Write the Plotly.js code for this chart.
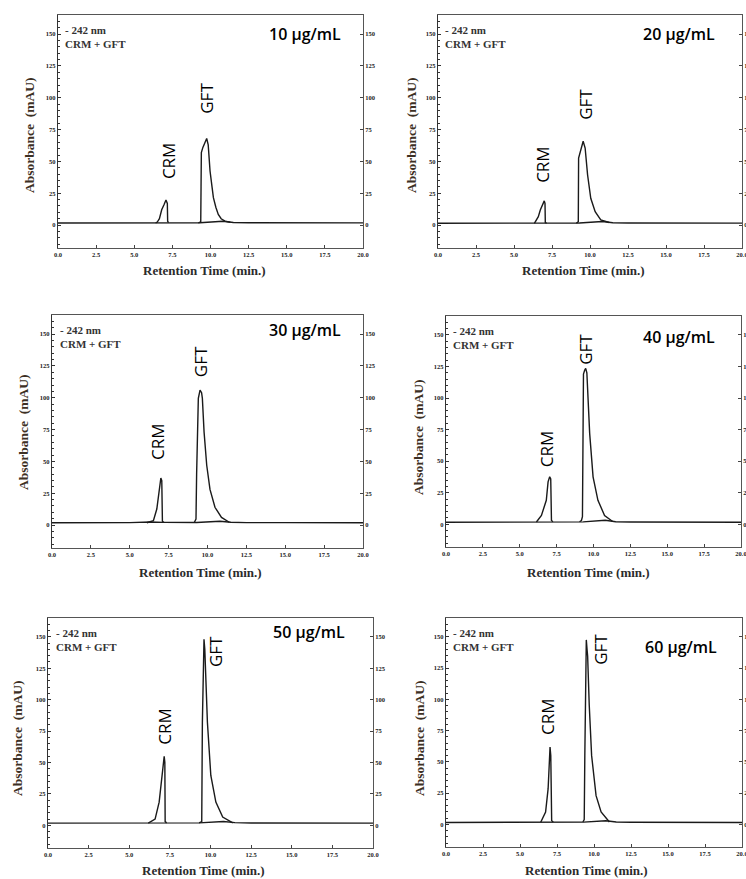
<!DOCTYPE html>
<html><head><meta charset="utf-8">
<script src="https://cdn.plot.ly/plotly-3.0.1.min.js"></script>
<style>html,body{margin:0;padding:0;background:#fff}#chart{width:746px;height:879px}</style>
</head><body><div id="chart"></div>
<script>
// ---- data ----
const concLabels = ['10 µg/mL','20 µg/mL','30 µg/mL','40 µg/mL','50 µg/mL','60 µg/mL'];
const xTicks = [0, 2.5, 5, 7.5, 10, 12.5, 15, 17.5, 20];
const xTickText = ['0.0','2.5','5.0','7.5','10.0','12.5','15.0','17.5','20.0'];
const yTicks = [0, 25, 50, 75, 100, 125, 150];
const yTickText = ['0','25','50','75','100','125','150'];

const baseTime = [0, 2.5, 5, 6.3, 7.2, 9.3, 10.8, 11.5, 12.5, 15, 17.5, 20];
const p1BaseAbs = [1.6, 1.7, 1.7, 2.2, 2.0, 1.8, 3.0, 2.0, 1.8, 1.8, 1.7, 1.7];
const p2BaseAbs = [1.4, 1.5, 1.5, 2.0, 1.9, 1.6, 2.8, 1.8, 1.6, 1.6, 1.5, 1.5];
const p3BaseAbs = [1.8, 1.8, 1.9, 2.4, 2.1, 2.0, 3.0, 2.2, 1.9, 1.9, 1.8, 1.8];
const p4BaseAbs = [1.6, 1.6, 1.7, 2.0, 2.0, 1.9, 3.2, 2.0, 1.8, 1.7, 1.7, 1.6];
const p5BaseAbs = [1.8, 1.8, 1.9, 2.2, 2.1, 2.0, 3.1, 2.2, 1.9, 1.9, 1.8, 1.8];
const p6BaseAbs = [1.6, 1.6, 1.7, 2.1, 2.0, 1.9, 3.0, 2.0, 1.8, 1.7, 1.7, 1.6];

const p1CrmTime = [6.4, 6.5, 6.65, 6.8, 6.95, 7.08, 7.17, 7.19, 7.25];
const p1CrmAbs  = [1.8, 2.2, 5, 12, 16, 19.7, 17, 3, 2];
const p1GftTime = [9.2, 9.36, 9.38, 9.4, 9.5, 9.62, 9.75, 9.85, 9.97, 10.1, 10.19, 10.35, 10.51, 10.7, 10.95, 11.3];
const p1GftAbs  = [1.8, 2.5, 30, 57, 61, 65, 68, 63, 42.5, 30, 21.5, 14, 8.4, 5, 3.1, 2.2];

const p2CrmTime = [6.34, 6.6, 6.73, 6.93, 6.99, 7.04, 7.06, 7.15];
const p2CrmAbs  = [1.4, 6.6, 11.8, 17, 19, 17, 2, 1.6];
const p2GftTime = [9.1, 9.23, 9.25, 9.33, 9.45, 9.55, 9.68, 9.84, 10.05, 10.34, 10.71, 11.26];
const p2GftAbs  = [1.6, 2.5, 52.6, 56.6, 62, 65.8, 60.5, 39.5, 21, 10.5, 4, 2];

const p3CrmTime = [6.1, 6.52, 6.74, 6.9, 7.0, 7.06, 7.1, 7.2];
const p3CrmAbs  = [1.8, 3.4, 12.6, 31, 37, 35, 3, 2];
const p3GftTime = [9.15, 9.26, 9.3, 9.35, 9.41, 9.52, 9.62, 9.67, 9.78, 9.95, 10.16, 10.48, 10.9, 11.4];
const p3GftAbs  = [2, 4.7, 40, 73, 99.5, 106, 104, 99.5, 73, 47, 28, 14, 6, 2.2];

const p4CrmTime = [6.13, 6.47, 6.8, 6.92, 7.03, 7.1, 7.15, 7.25];
const p4CrmAbs  = [1.8, 7, 19, 33.6, 37.6, 36, 3, 2];
const p4GftTime = [9.05, 9.18, 9.25, 9.29, 9.32, 9.4, 9.47, 9.55, 9.63, 9.74, 9.97, 10.3, 10.75, 11.3];
const p4GftAbs  = [2, 3, 6, 60, 119, 122, 123.5, 120, 104, 72, 37.6, 19, 7, 2.2];

const p5CrmTime = [6.17, 6.59, 6.84, 7.0, 7.15, 7.19, 7.21, 7.3];
const p5CrmAbs  = [1.8, 5, 18.5, 39.7, 55, 50, 3, 2];
const p5GftTime = [9.3, 9.46, 9.5, 9.54, 9.6, 9.65, 9.7, 9.81, 10.02, 10.33, 10.75, 11.37];
const p5GftAbs  = [2, 3, 82, 121.7, 148, 140, 121.7, 82, 39.7, 18.5, 6.6, 2];

const p6CrmTime = [6.4, 6.73, 6.9, 7.03, 7.08, 7.14, 7.25];
const p6CrmAbs  = [1.8, 10, 28.6, 61.8, 55, 3, 2];
const p6GftTime = [9.25, 9.34, 9.38, 9.43, 9.48, 9.53, 9.57, 9.68, 9.84, 10.14, 10.48, 11.04];
const p6GftAbs  = [2, 4, 55, 108, 147.5, 140, 134.7, 95, 55, 23, 10, 2];

// ---- layout config (positions only) ----
const W = 746, H = 879;
const geom = [
  {l:58,  r:363, t:15,  b:248, crm:[7.21,51],  gft:[9.77,100], conc:[13.7,150], yt:[29,135],  xt:[204,270]},
  {l:438, r:742, t:15,  b:248, crm:[6.9,48],   gft:[9.65,95],  conc:[13.35,150], yt:[411,135], xt:[583,270]},
  {l:52,  r:363, t:315, b:548, crm:[6.75,66],  gft:[9.52,128], conc:[13.8,153], yt:[23,432],  xt:[200,572]},
  {l:446, r:741, t:316, b:547, crm:[6.78,59.5],gft:[9.49,139], conc:[13.2,148], yt:[419,437], xt:[588,572]},
  {l:48,  r:373, t:618, b:848, crm:[7.12,79],  gft:[10.35,138],conc:[13.7,154], yt:[17,738],  xt:[203,870]},
  {l:446, r:742, t:618, b:847, crm:[6.9,86],   gft:[10.44,140],conc:[13.3,142], yt:[419,738], xt:[586,870]}
];
const series = [
  [p1BaseAbs, p1CrmTime, p1CrmAbs, p1GftTime, p1GftAbs],
  [p2BaseAbs, p2CrmTime, p2CrmAbs, p2GftTime, p2GftAbs],
  [p3BaseAbs, p3CrmTime, p3CrmAbs, p3GftTime, p3GftAbs],
  [p4BaseAbs, p4CrmTime, p4CrmAbs, p4GftTime, p4GftAbs],
  [p5BaseAbs, p5CrmTime, p5CrmAbs, p5GftTime, p5GftAbs],
  [p6BaseAbs, p6CrmTime, p6CrmAbs, p6GftTime, p6GftAbs]
];

const serif = 'Liberation Serif, DejaVu Serif, serif';
const sans = 'Open Sans, Noto Sans, sans-serif';
const tickFont = {family: serif, size: 6.5, color: '#222', weight: 'bold'};
const lineStyle = {color: '#1a1a1a', width: 1.4};

const traces = [];
const layout = {
  width: W, height: H, margin: {l:0, r:0, t:0, b:0},
  paper_bgcolor: '#fff', plot_bgcolor: '#fff', showlegend: false,
  annotations: []
};
const yRange = [-18, 165];

geom.forEach((g, i) => {
  const n = i + 1;
  const xa = n === 1 ? 'x' : 'x' + n;
  const ya = n === 1 ? 'y' : 'y' + n;
  const ya2 = 'y' + (n + 6);
  const xKey = n === 1 ? 'xaxis' : 'xaxis' + n;
  const yKey = n === 1 ? 'yaxis' : 'yaxis' + n;
  const y2Key = 'yaxis' + (n + 6);
  const [baseA, crmT, crmA, gftT, gftA] = series[i];

  traces.push({x: baseTime, y: baseA, xaxis: xa, yaxis: ya2, mode: 'lines', line: lineStyle, hoverinfo: 'skip'});
  traces.push({x: crmT, y: crmA, xaxis: xa, yaxis: ya, mode: 'lines', line: lineStyle, hoverinfo: 'skip'});
  traces.push({x: gftT, y: gftA, xaxis: xa, yaxis: ya, mode: 'lines', line: lineStyle, hoverinfo: 'skip'});

  layout[xKey] = {
    domain: [g.l / W, g.r / W], anchor: ya, range: [0, 20],
    tickmode: 'array', tickvals: xTicks, ticktext: xTickText,
    ticks: 'inside', ticklen: 3, tickcolor: '#444', ticklabeloverflow: 'allow',
    showline: true, mirror: true, linecolor: '#555', linewidth: 1,
    showgrid: false, zeroline: false, tickfont: tickFont, fixedrange: true
  };
  layout[yKey] = {
    domain: [1 - g.b / H, 1 - g.t / H], anchor: xa, range: yRange,
    tickmode: 'array', tickvals: yTicks, ticktext: yTickText,
    ticks: 'inside', ticklen: 3, tickcolor: '#333',
    minor: {tickmode: 'linear', tick0: 0, dtick: 5, ticks: 'inside', ticklen: 2, tickcolor: '#333', showgrid: false},
    showline: true, linecolor: '#333', linewidth: 1.3,
    showgrid: false, zeroline: false, tickfont: tickFont, fixedrange: true
  };
  layout[y2Key] = {
    overlaying: ya, side: 'right', anchor: xa, range: yRange,
    tickmode: 'array', tickvals: yTicks, ticktext: yTickText,
    ticks: 'inside', ticklen: 3, tickcolor: '#444', ticklabeloverflow: 'allow',
    showline: true, linecolor: '#555', linewidth: 1,
    showgrid: false, zeroline: false, tickfont: tickFont, fixedrange: true
  };

  const ann = layout.annotations;
  ann.push({xref: xa + ' domain', yref: ya + ' domain', x: 0.018, y: 0.97, xanchor: 'left', yanchor: 'top',
            align: 'left', showarrow: false, text: '- 242 nm<br>CRM + GFT',
            font: {family: serif, size: 11, color: '#333', weight: 'bold'}});
  ann.push({xref: xa, yref: ya, x: g.conc[0], y: g.conc[1], xanchor: 'left', yanchor: 'middle',
            showarrow: false, text: concLabels[i], font: {family: sans, size: 16, color: '#000', weight: 600}});
  ann.push({xref: xa, yref: ya, x: g.crm[0], y: g.crm[1], xanchor: 'center', yanchor: 'middle', textangle: -90, showarrow: false,
            text: 'CRM', font: {family: sans, size: 17, color: '#000'}});
  ann.push({xref: xa, yref: ya, x: g.gft[0], y: g.gft[1], xanchor: 'center', yanchor: 'middle', textangle: -90, showarrow: false,
            text: 'GFT', font: {family: sans, size: 17, color: '#000'}});
  ann.push({xref: 'paper', yref: 'paper', x: g.yt[0] / W, y: 1 - g.yt[1] / H, xanchor: 'center', yanchor: 'middle',
            textangle: -90, showarrow: false,
            text: 'Absorbance  (mAU)', font: {family: serif, size: 13.5, color: '#3d3024', weight: 'bold'}});
  ann.push({xref: 'paper', yref: 'paper', x: g.xt[0] / W, y: 1 - g.xt[1] / H, xanchor: 'center', yanchor: 'middle',
            showarrow: false, borderpad: 0,
            text: 'Retention Time (min.)', font: {family: serif, size: 13, color: '#2b2b2b', weight: 'bold'}});
});

Plotly.newPlot('chart', traces, layout, {staticPlot: true, displayModeBar: false});
</script>
</body></html>
